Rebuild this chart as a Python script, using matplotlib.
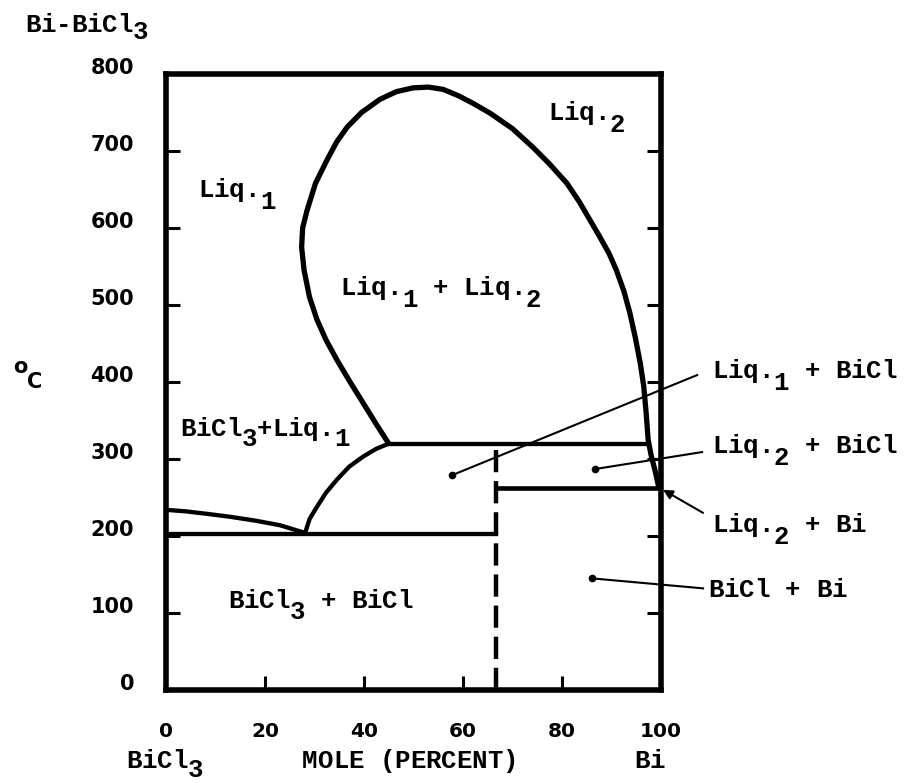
import matplotlib
matplotlib.use("Agg")
import matplotlib.pyplot as plt
from matplotlib.transforms import ScaledTranslation

# Bi-BiCl3 phase diagram (mole % Bi, deg C)

# miscibility gap Liq.1 + Liq.2 (left foot -> top -> right foot -> Bi side)
dome_x = [45.0, 42.5, 39.8, 37.0, 34.5, 32.3, 30.5, 29.0, 27.9, 27.4, 27.6, 28.5,
          30.2, 32.5, 34.5, 36.6, 39.5, 43.2, 46.5, 49.9, 53.0, 56.0, 59.0, 62.0,
          65.5, 70.0, 74.1, 77.5, 81.0, 83.5, 85.5, 87.5, 89.5, 91.0, 92.5, 93.7,
          94.8, 95.8, 96.5, 97.0, 97.4, 98.0, 98.8, 99.6]
dome_t = [320, 345, 373, 402, 429, 455, 481, 510, 545, 575, 600, 623,
          658, 688, 712, 731, 750, 767, 777, 782, 783, 780, 772, 762,
          749, 729, 705, 683, 658, 634, 612, 590, 567, 545, 518, 490,
          458, 425, 395, 360, 325, 305, 285, 262]

# BiCl3 liquidus
bicl3_liq_x = [0, 4, 8, 12.9, 18, 23, 28.1]
bicl3_liq_t = [234, 232, 229, 225, 220, 214, 204]

# BiCl liquidus up to the monotectic
bicl_liq_x = [28.1, 29.0, 30.5, 32.3, 34.5, 37.0, 39.8, 42.4, 45.0]
bicl_liq_t = [204, 222, 238, 256, 273, 290, 303, 313, 320]

# invariant lines
eut_t, eut_x0, eut_x1 = 202, 0, 66.7
mono_t, mono_x0, mono_x1 = 320, 45.0, 97.4
bieut_t, bieut_x0, bieut_x1 = 262, 66.7, 100
bicl_x, bicl_top = 66.7, 320

# ticks
yticks = [0, 100, 200, 300, 400, 500, 600, 700, 800]
xticks = [0, 20, 40, 60, 80, 100]

# region labels ("_" = next character typed half a line lower)
reg_text = ["Liq._1", "Liq._2", "Liq._1 + Liq._2", "BiCl_3+Liq._1", "BiCl_3 + BiCl",
            "Liq._1 + BiCl", "Liq._2 + BiCl", "Liq._2 + Bi", "BiCl + Bi"]
reg_x = [6.5, 77.2, 35.2, 2.8, 12.5, 110.3, 110.3, 110.3, 109.5]
reg_t = [640, 740, 513, 330, 106, 405, 308, 205, 121]
reg_drop = [8.5, 8.5, 8.5, 7.5, 7.5, 8.5, 8.5, 8.5, 0]

# leader lines with a dot in the region
lead_dot_x = [57.8, 86.7, 86.0]
lead_dot_t = [279, 287, 145]
lead_end_x = [107.3, 108.3, 108.5]
lead_end_t = [409, 309, 132]
# arrow to the tiny Liq.2 + Bi field
arr_tip = (100.4, 260)
arr_tail = (108.5, 230)

fig = plt.figure(figsize=(9.08, 7.83), dpi=100)
ax = fig.add_axes([166 / 908, 93 / 783, 495 / 908, 616 / 783])

SIZE = 18.5


def typed(x, t, s, drop=8.5, size=SIZE):
    # fixed pitch, like the typewriter lettering of the original
    col = 0
    sub = False
    for ch in s:
        if ch == "_":
            sub = True
            continue
        if ch != " ":
            ax.annotate(ch, (x, t), xytext=(col * 0.6 * size, -drop if sub else 0),
                        textcoords="offset points", fontsize=size,
                        family="Liberation Mono", weight="bold",
                        va="baseline", ha="left", annotation_clip=False)
        col += 1
        sub = False


# boundaries
ax.plot(dome_x, dome_t, color="black", lw=3.8, solid_joinstyle="round",
        solid_capstyle="round", clip_on=False)
ax.plot(bicl3_liq_x, bicl3_liq_t, color="black", lw=3.1, solid_capstyle="round")
ax.plot(bicl_liq_x, bicl_liq_t, color="black", lw=3.1, solid_capstyle="round")
ax.plot([eut_x0, eut_x1], [eut_t, eut_t], color="black", lw=3.1)
ax.plot([mono_x0, mono_x1], [mono_t, mono_t], color="black", lw=3.1)
ax.plot([bieut_x0, bieut_x1], [bieut_t, bieut_t], color="black", lw=3.3)
ax.plot([bicl_x, bicl_x], [0, bicl_top], color="black", lw=3.2,
        linestyle=(0, (5, 2)), dash_capstyle="butt")

# leaders
for i in range(len(lead_dot_x)):
    ax.plot([lead_dot_x[i], lead_end_x[i]], [lead_dot_t[i], lead_end_t[i]],
            color="black", lw=1.5, clip_on=False)
    ax.plot(lead_dot_x[i], lead_dot_t[i], "o", color="black", ms=4.5)
ax.annotate("", xy=arr_tip, xytext=arr_tail, annotation_clip=False,
            arrowprops=dict(arrowstyle="-|>", color="black", lw=1.5,
                            mutation_scale=14, shrinkA=0, shrinkB=0))

for s, x, t, d in zip(reg_text, reg_x, reg_t, reg_drop):
    typed(x, t, s, drop=d)

# title and axis labels
typed(-28.5, 854, "Bi-BiCl_3", drop=5)
typed(-8.1, -101, "BiCl_3", drop=7)
typed(27.5, -101, "MOLE (PERCENT)")
typed(94.5, -101, "Bi")
ax.text(-30.9, 412, "o", fontsize=15, weight="bold", family="DejaVu Sans",
        va="baseline", clip_on=False)
ax.text(-28.0, 392, "C", fontsize=15, weight="bold", family="DejaVu Sans",
        va="baseline", clip_on=False)

# axes
ax.set_xlim(0, 100)
ax.set_ylim(0, 800)
ax.set_xticks(xticks)
ax.set_yticks(yticks)
ax.set_xticklabels([str(v) for v in xticks], fontsize=14.5, weight="bold")
ax.set_yticklabels([str(v) for v in yticks], fontsize=15, weight="bold")
ax.tick_params(axis="y", direction="in", length=10, width=2.2, left=True,
               right=True, pad=23)
ax.tick_params(axis="x", direction="in", length=10, width=2.2, bottom=True,
               top=False, pad=23)
for sp in ax.spines.values():
    sp.set_linewidth(4)

# y labels sit a little above their ticks on the original
up = ScaledTranslation(0, 6 / 72, fig.dpi_scale_trans)
for lab in ax.get_yticklabels():
    lab.set_transform(lab.get_transform() + up)

fig.savefig("out.png", dpi=100)
